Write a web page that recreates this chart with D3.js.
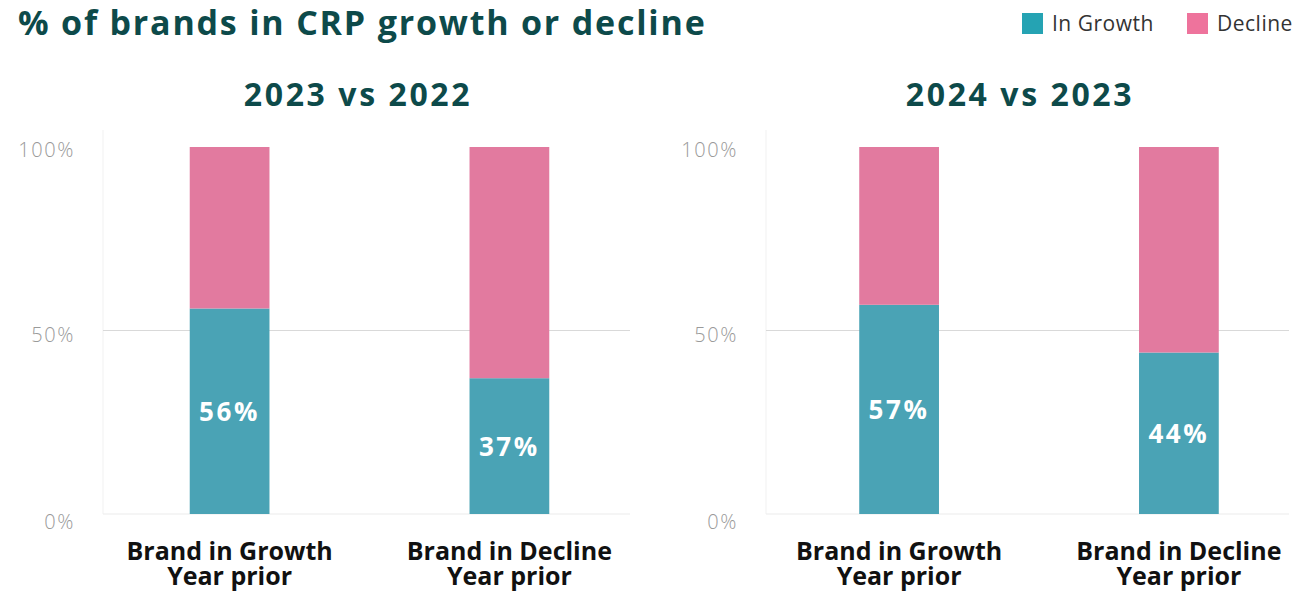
<!DOCTYPE html>
<html>
<head>
<meta charset="utf-8">
<script src="https://cdn.jsdelivr.net/npm/d3@7"></script>
<style>
  html, body { margin: 0; padding: 0; background: #fff; }
  svg { display: block; }
  text { font-family: "Open Sans", Lato, sans-serif; }
</style>
</head>
<body>
<svg id="chart" width="1310" height="593"></svg>
<script>
// Chart data
const categories = ["Brand in Growth|Year prior", "Brand in Decline|Year prior"];
const panels = ["2023 vs 2022", "2024 vs 2023"];
const growth2023 = [56, 37];
const growth2024 = [57, 44];
const seriesNames = ["In Growth", "Decline"];
const yTicks = [0, 50, 100];

const colors = { growth: "#4aa3b5", decline: "#e27a9f" };
const legendColors = ["#25a3b3", "#ee739c"];
const titleColor = "#0d4a4a";

const svg = d3.select("#chart");

// Main title
svg.append("text")
  .attr("x", 18).attr("y", 35)
  .attr("font-size", 34).attr("font-weight", 700)
  .attr("letter-spacing", 1.8)
  .attr("fill", titleColor)
  .text("% of brands in CRP growth or decline");

// Legend
const legend = svg.append("g");
const legendX = [1022, 1187];
seriesNames.forEach((name, i) => {
  const g = legend.append("g").attr("transform", `translate(${legendX[i]},13)`);
  g.append("rect").attr("width", 21).attr("height", 21).attr("fill", legendColors[i]);
  g.append("text").attr("x", 30).attr("y", 18)
    .attr("font-size", 21).attr("letter-spacing", 0.5)
    .attr("fill", "#333").text(name);
});

// Shared vertical scale
const y = d3.scaleLinear().domain([0, 100]).range([514, 147]);

const panelLayout = [
  { axisX: 103, gridEnd: 630, band: [103, 636], titleX: 358 },
  { axisX: 766, gridEnd: 1289, band: [772.5, 1305.5], titleX: 1020 }
];
const panelData = [growth2023, growth2024];

panelLayout.forEach((p, pi) => {
  const g = svg.append("g");
  const x = d3.scaleBand().domain(categories).range(p.band)
    .paddingInner(0.715).paddingOuter(0.31);

  // Panel subtitle
  g.append("text")
    .attr("x", p.titleX).attr("y", 106)
    .attr("text-anchor", "middle")
    .attr("font-size", 32).attr("font-weight", 700)
    .attr("letter-spacing", 2.6)
    .attr("fill", titleColor)
    .text(panels[pi]);

  // Left axis line
  g.append("line")
    .attr("x1", p.axisX).attr("x2", p.axisX)
    .attr("y1", 130).attr("y2", y(0))
    .attr("stroke", "#f1f1f1").attr("stroke-width", 1);

  // Gridlines
  g.selectAll("line.grid").data(yTicks.filter(t => t < 100)).join("line")
    .attr("class", "grid")
    .attr("x1", p.axisX).attr("x2", p.gridEnd)
    .attr("y1", d => y(d)).attr("y2", d => y(d))
    .attr("stroke", d => d === 0 ? "#ececec" : "#d9d9d9")
    .attr("stroke-width", 1.2);

  // Y tick labels
  g.selectAll("text.ytick").data(yTicks).join("text")
    .attr("class", "ytick")
    .attr("x", p.axisX - 28)
    .attr("y", d => y(d) + (d === 0 ? 15 : d === 50 ? 11 : 10))
    .attr("text-anchor", "end")
    .attr("font-size", 20).attr("font-weight", 300)
    .attr("letter-spacing", 1.6)
    .attr("fill", "#9a9a9a")
    .text(d => d + "%");

  const vals = panelData[pi];
  const rows = categories.map((c, i) => ({ cat: c, growth: vals[i], decline: 100 - vals[i] }));
  const stacked = d3.stack().keys(["growth", "decline"])(rows);

  g.selectAll("g.layer").data(stacked).join("g")
    .attr("class", "layer")
    .attr("fill", d => colors[d.key])
    .selectAll("rect").data(d => d).join("rect")
      .attr("x", d => x(d.data.cat))
      .attr("width", x.bandwidth())
      .attr("y", d => y(d[1]))
      .attr("height", d => y(d[0]) - y(d[1]));

  // Value labels centred in the growth segment
  g.selectAll("text.val").data(stacked[0]).join("text")
    .attr("class", "val")
    .attr("x", d => x(d.data.cat) + x.bandwidth() / 2)
    .attr("y", d => (y(d[0]) + y(d[1])) / 2 + 9.5)
    .attr("text-anchor", "middle")
    .attr("font-size", 26).attr("font-weight", 700)
    .attr("letter-spacing", 2.6)
    .attr("fill", "#fff")
    .text(d => d.data.growth + "%");

  // Category labels (two lines)
  const cl = g.selectAll("text.cat").data(categories).join("text")
    .attr("class", "cat")
    .attr("text-anchor", "middle")
    .attr("font-size", 25).attr("font-weight", 700)
    .attr("fill", "#111");
  cl.each(function(c) {
    const lines = c.split("|");
    const t = d3.select(this);
    lines.forEach((ln, li) => {
      t.append("tspan")
        .attr("x", x(c) + x.bandwidth() / 2)
        .attr("y", 560 + li * 25)
        .text(ln);
    });
  });
});
</script>
</body>
</html>
